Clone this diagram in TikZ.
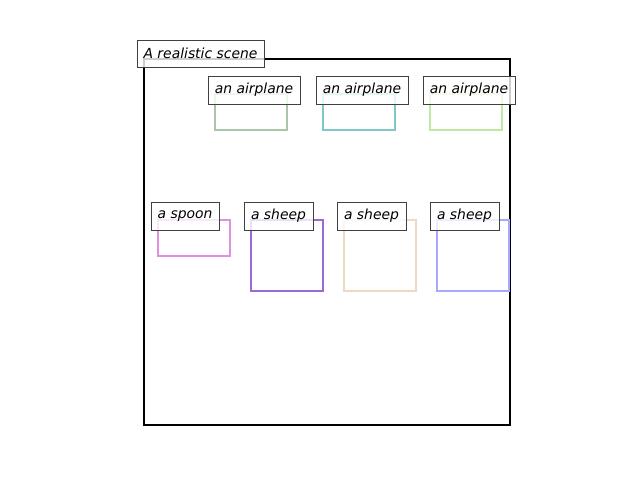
\documentclass[tikz,border=0pt]{standalone}
\usepackage{fontspec}
\setmainfont{DejaVu Sans}
\definecolor{cA}{HTML}{A9C6A9}
\definecolor{cB}{HTML}{80C8C8}
\definecolor{cC}{HTML}{C0E8A0}
\definecolor{cD}{HTML}{E090E0}
\definecolor{cE}{HTML}{9A6AD8}
\definecolor{cF}{HTML}{EFD9C5}
\definecolor{cG}{HTML}{A8A8FF}
\definecolor{edge}{HTML}{404040}
\tikzset{
  box/.style={draw, line width=2pt, inner sep=0pt, minimum width=#1},
  lab/.style={draw=edge, line width=1pt, fill=white, fill opacity=0.8, text opacity=1,
    inner sep=0pt, minimum height=28pt, font=\fontsize{13.9}{16}\selectfont\itshape},
}
\begin{document}
\begin{tikzpicture}[x=1pt,y=-1pt]
\useasboundingbox (0,0) rectangle (640,480);
\node[draw=black, line width=2pt, inner sep=0pt, minimum width=366pt, minimum height=366pt] (scene) at (327,242) {};
% boxes
\node[box=72pt, draw=cA, minimum height=36pt] (b1) at (251,112) {};
\node[box=72pt, draw=cB, minimum height=36pt] (b2) at (358.5,112) {};
\node[box=72pt, draw=cC, minimum height=36pt] (b3) at (466,112) {};
\node[box=72pt, draw=cD, minimum height=36pt] (b4) at (194,238) {};
\node[box=72pt, draw=cE, minimum height=71pt] (b5) at (287,255.5) {};
\node[box=72pt, draw=cF, minimum height=71pt] (b6) at (380,255.5) {};
\node[box=72pt, draw=cG, minimum height=71pt] (b7) at (473,255.5) {};
% labels
\node[lab, minimum width=127pt, minimum height=27pt] (title) at (200.5,53.5) {A realistic scene};
\node[lab, minimum width=92pt] (l1) at (254,90) {an airplane};
\node[lab, minimum width=92pt] (l2) at (362,90) {an airplane};
\node[lab, minimum width=92pt] (l3) at (469,90) {an airplane};
\node[lab, minimum width=68pt] (l4) at (185,216) {a spoon};
\node[lab, minimum width=69pt] (l5) at (278.5,216) {a sheep};
\node[lab, minimum width=69pt] (l6) at (371.5,216) {a sheep};
\node[lab, minimum width=69pt] (l7) at (464.5,216) {a sheep};
\end{tikzpicture}
\end{document}
